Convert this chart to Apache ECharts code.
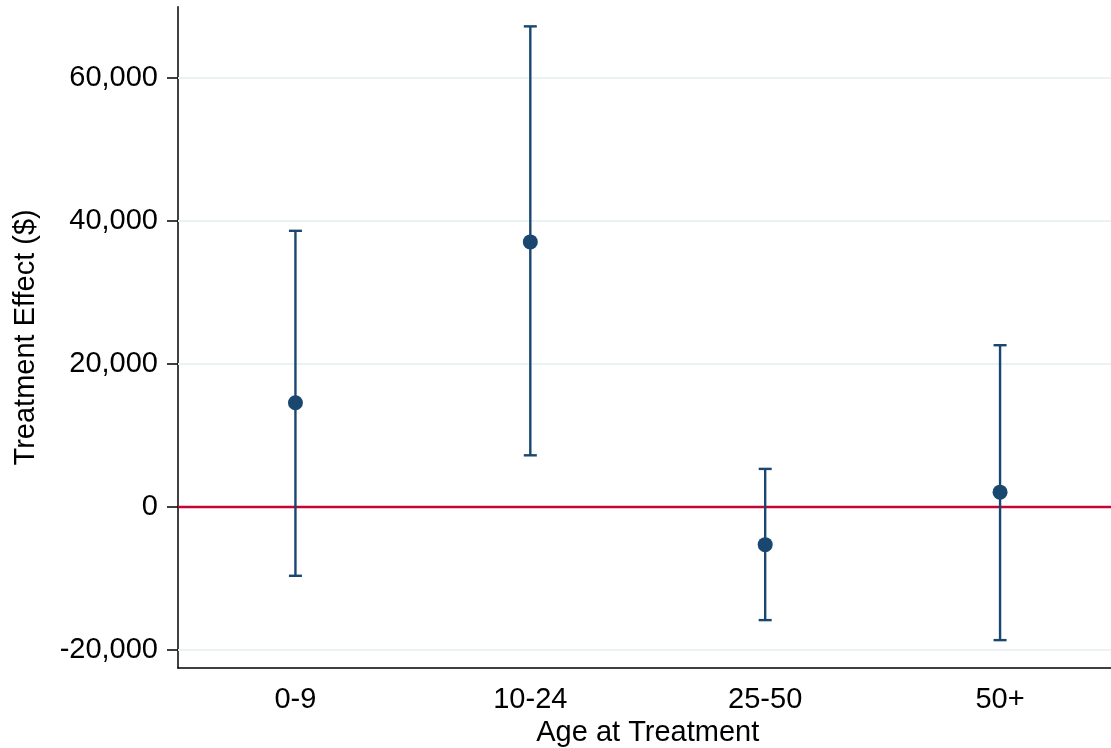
<!DOCTYPE html>
<html lang="en">
<head>
    <meta charset="UTF-8">
    <title>Treatment Effect by Age</title>
    <script src="https://cdn.jsdelivr.net/npm/echarts@6/dist/echarts.min.js"></script>
    <style>
        html, body { margin: 0; padding: 0; background: #fff; }
        #chart { width: 1111px; height: 748px; }
    </style>
</head>
<body>
<div id="chart"></div>
<script>
    // data
    var ageGroups = ['0-9', '10-24', '25-50', '50+'];
    var estimates = [14600, 37100, -5250, 2100];
    var ciLower = [-9600, 7250, -15800, -18600];
    var ciUpper = [38650, 67250, 5350, 22650];
    var yTicks = [-20000, 0, 20000, 40000, 60000];

    var font = "'Liberation Sans', Arial, Helvetica, sans-serif";
    var navy = '#1a476f';

    var barData = ageGroups.map(function (g, i) {
        return [i, ciLower[i], ciUpper[i]];
    });
    var pointData = ageGroups.map(function (g, i) {
        return [i, estimates[i]];
    });
    var gridLines = yTicks.filter(function (v) { return v !== 0; }).map(function (v) {
        return { yAxis: v };
    });

    var chart = echarts.init(document.getElementById('chart'));
    var option = {
        animation: false,
        backgroundColor: '#fff',
        grid: { left: 178, right: -6.5, top: 6.7, bottom: 80, outerBoundsMode: 'none', containLabel: false },
        xAxis: {
            type: 'category',
            data: ageGroups,
            boundaryGap: true,
            name: 'Age at Treatment',
            nameLocation: 'middle',
            nameGap: 43,
            nameTextStyle: { fontFamily: font, fontSize: 29, color: '#000' },
            axisLine: { onZero: false, lineStyle: { color: '#000', width: 1.5 } },
            axisTick: { alignWithLabel: true, length: 12, lineStyle: { color: '#000', width: 1.5 } },
            axisLabel: { fontFamily: font, fontSize: 29, color: '#000', margin: 17 },
            splitLine: { show: false }
        },
        yAxis: {
            type: 'value',
            min: -22500,
            max: 70000,
            name: 'Treatment Effect ($)',
            nameLocation: 'middle',
            nameGap: 138,
            nameTextStyle: { fontFamily: font, fontSize: 29, color: '#000' },
            axisLine: { show: true, lineStyle: { color: '#000', width: 1.5 } },
            axisTick: { show: true, length: 11, customValues: yTicks, lineStyle: { color: '#000', width: 1.5 } },
            axisLabel: {
                fontFamily: font, fontSize: 29, color: '#000', margin: 20,
                customValues: yTicks,
                formatter: function (v) { return v.toLocaleString('en-US'); }
            },
            splitLine: { show: false }
        },
        series: [
            {
                // light grid lines
                type: 'line',
                data: [],
                z: 1,
                silent: true,
                markLine: {
                    z: 1,
                    silent: true,
                    symbol: 'none',
                    label: { show: false },
                    lineStyle: { color: '#eaf2f3', width: 2, type: 'solid' },
                    data: gridLines
                }
            },
            {
                // zero reference line
                type: 'line',
                data: [],
                z: 2,
                silent: true,
                markLine: {
                    z: 2,
                    silent: true,
                    symbol: 'none',
                    label: { show: false },
                    lineStyle: { color: '#c10534', width: 2.4, type: 'solid' },
                    data: [{ yAxis: 0 }]
                }
            },
            {
                // confidence intervals
                type: 'custom',
                z: 3,
                data: barData,
                renderItem: function (params, api) {
                    var x = api.value(0);
                    var lo = api.coord([x, api.value(1)]);
                    var hi = api.coord([x, api.value(2)]);
                    var half = 6.5;
                    var style = { stroke: navy, lineWidth: 2.4 };
                    return {
                        type: 'group',
                        children: [
                            { type: 'line', shape: { x1: lo[0], y1: lo[1], x2: hi[0], y2: hi[1] }, style: style },
                            { type: 'line', shape: { x1: lo[0] - half, y1: lo[1], x2: lo[0] + half, y2: lo[1] }, style: style },
                            { type: 'line', shape: { x1: hi[0] - half, y1: hi[1], x2: hi[0] + half, y2: hi[1] }, style: style }
                        ]
                    };
                }
            },
            {
                // point estimates
                type: 'scatter',
                z: 4,
                data: pointData,
                symbol: 'circle',
                symbolSize: 15,
                itemStyle: { color: navy, opacity: 1 }
            }
        ]
    };
    chart.setOption(option);
</script>
</body>
</html>
